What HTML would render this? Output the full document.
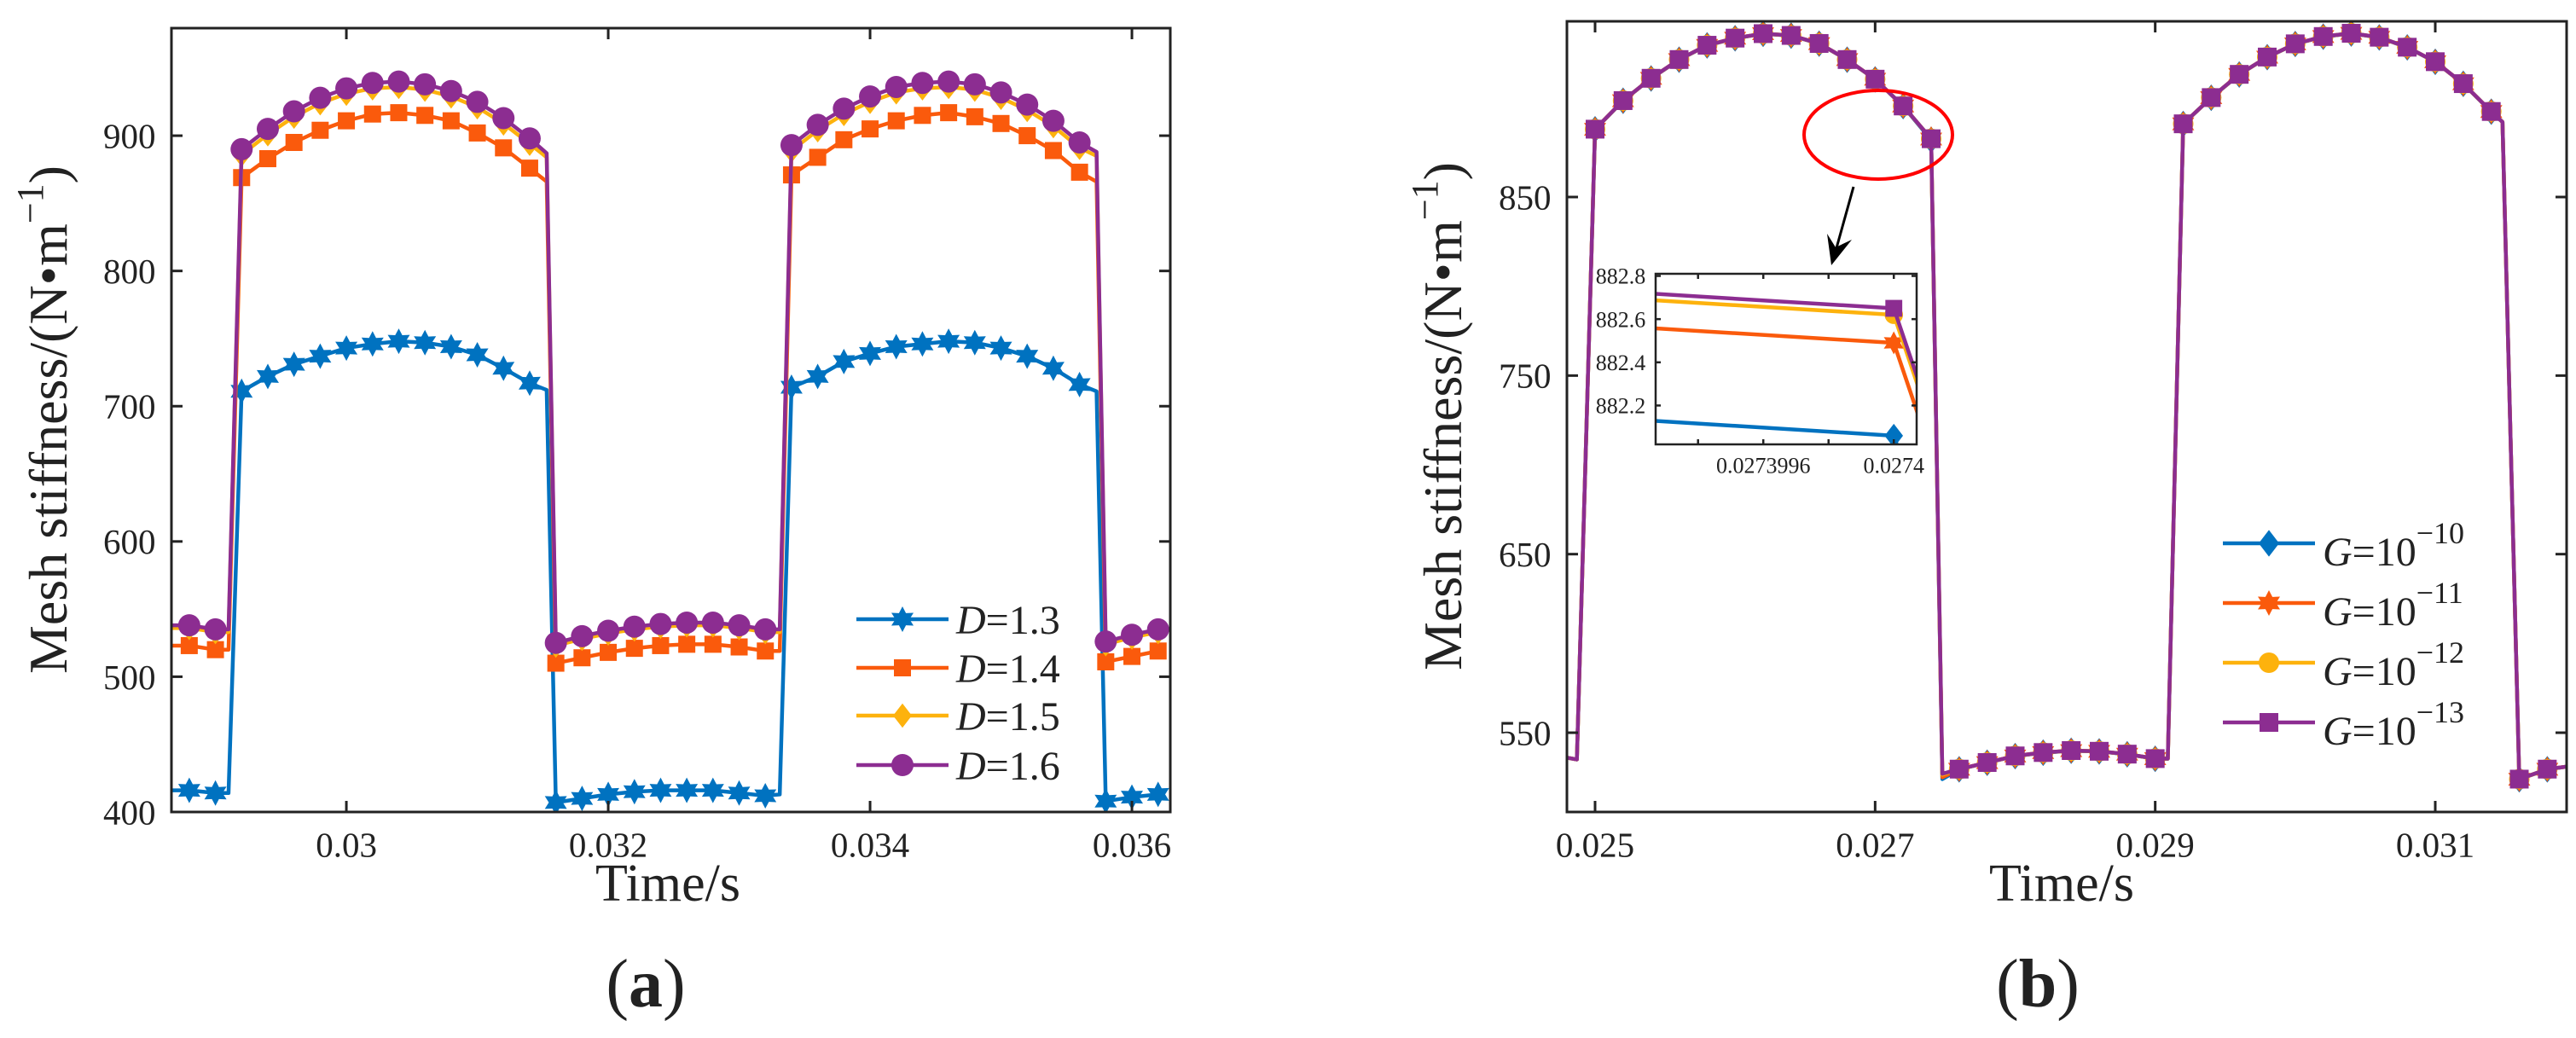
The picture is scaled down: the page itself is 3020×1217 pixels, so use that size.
<!DOCTYPE html>
<html><head><meta charset="utf-8"><style>
html,body{margin:0;padding:0;background:#fff;width:3020px;height:1217px;overflow:hidden}
svg{display:block;font-family:"Liberation Serif",serif;overflow:hidden}
</style></head><body>
<svg id="fig" width="3020" height="1217" viewBox="0 0 3020 1217" xmlns="http://www.w3.org/2000/svg">
<defs>
<clipPath id="clipL"><rect x="201" y="33" width="1171" height="919"/></clipPath>
<clipPath id="clipR"><rect x="1837" y="25" width="1172" height="927"/></clipPath>
<clipPath id="clipI"><rect x="1941" y="321" width="306" height="200"/></clipPath>
</defs>
<g id="panelA"></g>
<g id="panelB"></g>
</svg>
<script>
// ---------- Panel (a) data ----------
const tA = [0.0288,0.0290,0.0292,0.0294,0.0296,0.0298,0.0300,0.0302,0.0304,0.0306,0.0308,0.0310,0.0312,0.0314,
0.0316,0.0318,0.0320,0.0322,0.0324,0.0326,0.0328,0.0330,0.0332,
0.0334,0.0336,0.0338,0.0340,0.0342,0.0344,0.0346,0.0348,0.0350,0.0352,0.0354,0.0356,
0.0358,0.0360,0.0362];
const d13 = [416,414, 711,722,731,737,743,746,748,747,744,738,728,717, 407,410,413,415,416,416,416,414,412, 714,722,733,739,744,746,748,747,743,737,728,716, 408,411,413];
const d14 = [523,520, 869,883,895,904,911,916,917,915,911,902,891,876, 510,514,518,521,523,524,524,522,519, 871,884,897,905,911,915,917,914,909,900,889,873, 511,515,519];
const d15 = [536,533, 886,901,914,924,931,935,936,934,929,921,909,894, 523,528,532,535,537,538,538,536,533, 889,904,916,925,932,935,936,934,928,919,907,891, 524,529,533];
const d16 = [538,535, 890,905,918,928,935,939,940,938,933,925,913,898, 525,530,534,537,539,540,540,538,535, 893,908,920,929,936,939,940,938,932,923,911,895, 526,531,535];
const edgeTA = [0.02866,0.02910,0.03153,0.03331,0.03573];
const e13 = [416,414,712,413,711];
const e14 = [523,520,866,519,866];
const e15 = [536,533,884,533,885];
const e16 = [538,535,887,535,888];
const xTicksA = [0.030,0.032,0.034,0.036];
const xTickLabelsA = ["0.03","0.032","0.034","0.036"];
const yTicksA = [400,500,600,700,800,900];
const legendA = ["1.3","1.4","1.5","1.6"];

// ---------- Panel (b) data ----------
const tB = [0.0250,0.0252,0.0254,0.0256,0.0258,0.0260,0.0262,0.0264,0.0266,0.0268,0.0270,0.0272,0.0274,
0.0276,0.0278,0.0280,0.0282,0.0284,0.0286,0.0288,0.0290,
0.0292,0.0294,0.0296,0.0298,0.0300,0.0302,0.0304,0.0306,0.0308,0.0310,0.0312,0.0314,
0.0316,0.0318];
const g10 = [887.9,903.9,916.4,926.9,934.9,938.9,941.4,940.4,935.9,926.9,915.9,900.9,882.06, 529.5,533.2,536.9,538.8,539.9,539.5,537.9,535.4, 890.9,905.6,918.6,928.3,935.7,939.8,941.6,939.4,933.8,925.7,913.4,897.8, 523.9,529.5];
const g11 = [887.95,903.95,916.45,926.95,934.95,938.95,941.45,940.45,935.95,926.95,915.95,900.95,882.49, 529.55,533.25,536.95,538.85,539.95,539.55,537.95,535.45, 890.95,905.65,918.65,928.35,935.75,939.85,941.65,939.45,933.85,925.75,913.45,897.85, 523.95,529.55];
const g12 = [888,904,916.5,927,935,939,941.5,940.5,936,927,916,901,882.62, 529.6,533.3,537,538.9,540,539.6,538,535.5, 891,905.7,918.7,928.4,935.8,939.9,941.7,939.5,933.9,925.8,913.5,897.9, 524,529.6];
const g13 = [888,904,916.5,927,935,939,941.5,940.5,936,927,916,901,882.65, 529.6,533.3,537,538.9,540,539.6,538,535.5, 891,905.7,918.7,928.4,935.8,939.9,941.7,939.5,933.9,925.8,913.5,897.9, 524,529.6];
const edgeTB = [0.024799,0.02487,0.02748,0.02909,0.03148,0.031938];
const eg10 = [536,535,524,535.4,892,531];
const eg11 = [536,535,525,535.45,892,531];
const eg12 = [536,535,526.5,535.5,892,531];
const eg13 = [536,535,527,535.5,892,531];
const xTicksB = [0.025,0.027,0.029,0.031];
const xTickLabelsB = ["0.025","0.027","0.029","0.031"];
const yTicksB = [550,650,750,850];
const legendB = ["10","11","12","13"];
// inset
const xTicksI = [0.0273994,0.0273996,0.0273998,0.0274];
const xTickLabelsI = ["","0.0273996","","0.0274"];
const yTicksI = [882.2,882.4,882.6,882.8];

const NS = "http://www.w3.org/2000/svg";
const C = {blue:"#0072C0",orange:"#FA5A0C",yellow:"#FDB20D",purple:"#8C2D91"};
function mk(tag, attrs, parent){const e=document.createElementNS(NS,tag);for(const k in attrs)e.setAttribute(k,attrs[k]);if(parent)parent.appendChild(e);return e;}
function scale(d0,d1,p0,p1){return v=>p0+(v-d0)/(d1-d0)*(p1-p0);}
function marker(g,type,cx,cy,s,color){
  let e;
  if(type==="circle"){e=mk("circle",{cx:cx,cy:cy,r:s},g);}
  else if(type==="square"){e=mk("rect",{x:cx-s,y:cy-s,width:2*s,height:2*s},g);}
  else if(type==="diamond"){e=mk("polygon",{points:`${cx},${cy-s*1.3} ${cx+s},${cy} ${cx},${cy+s*1.3} ${cx-s},${cy}`},g);}
  else {let p=[];for(let i=0;i<12;i++){const a=-Math.PI/2+i*Math.PI/6;const r=i%2?s*0.55:s;p.push((cx+r*Math.cos(a)).toFixed(1)+","+(cy+r*Math.sin(a)).toFixed(1));}e=mk("polygon",{points:p.join(" ")},g);}
  e.setAttribute("fill",color);
  
  
  return e;
}
function mergePts(t,v,et,ev){const a=[];t.forEach((x,i)=>a.push([x,v[i]]));et.forEach((x,i)=>a.push([x,ev[i]]));a.sort((p,q)=>p[0]-q[0]);return a;}
function drawSeries(g,X,Y,t,v,et,ev,type,s,color,clip,name){
  const sg=mk("g",{"clip-path":`url(#${clip})`},g);
  
  
  const pts=mergePts(t,v,et,ev);
  const pl=mk("polyline",{points:pts.map(p=>X(p[0]).toFixed(2)+","+Y(p[1]).toFixed(2)).join(" "),fill:"none",stroke:color,"stroke-width":4.5,"stroke-linejoin":"round"},sg);
  
  
  t.forEach((x,i)=>marker(sg,type,X(x),Y(v[i]),s,color));
}
function axes(g,L,R,T,B,X,Y,xt,xl,yt,yl,fs,tl,name,lw){
  const fr=mk("rect",{x:L,y:T,width:R-L,height:B-T,fill:"none",stroke:"#222","stroke-width":lw},g);
  
  
  xt.forEach((v,i)=>{const x=X(v);
    mk("line",{x1:x,y1:B,x2:x,y2:B-tl,stroke:"#222","stroke-width":lw},g);
    mk("line",{x1:x,y1:T,x2:x,y2:T+tl,stroke:"#222","stroke-width":lw},g);
    if(xl[i]){const t=mk("text",{x:x,y:B+fs*1.28,"font-size":fs,"text-anchor":"middle",fill:"#222"},g);t.textContent=xl[i];
    
    }
  });
  yt.forEach((v,i)=>{const y=Y(v);
    mk("line",{x1:L,y1:y,x2:L+tl,y2:y,stroke:"#222","stroke-width":lw},g);
    mk("line",{x1:R,y1:y,x2:R-tl,y2:y,stroke:"#222","stroke-width":lw},g);
    const t=mk("text",{x:L-fs*0.45,y:y+fs*0.35,"font-size":fs,"text-anchor":"end",fill:"#222"},g);t.textContent=yl[i];
    
    
  });
}
function ytitle(g,x,y){
  const t=mk("text",{x:0,y:0,"font-size":64,"text-anchor":"middle",fill:"#222",transform:`translate(${x},${y}) rotate(-90)`},g);
  t.innerHTML='Mesh stiffness/(N•m<tspan dy="-28" font-size="44">−1</tspan><tspan dy="28">)</tspan>';
  
  
}
function text(g,x,y,fs,str,name,anchor){const t=mk("text",{x:x,y:y,"font-size":fs,"text-anchor":anchor||"middle",fill:"#222"},g);t.innerHTML=str;
  
  return t;}

// ---------- Panel A ----------
(function(){
  const g=document.getElementById("panelA");
  const L=201,R=1372,T=33,B=952;
  const X=scale(0.028664,0.036293,L,R), Y=scale(400,979.5,B,T);
  const series=[[d13,e13,"hex",15,C.blue,"series-d13"],[d14,e14,"square",10,C.orange,"series-d14"],[d15,e15,"diamond",11,C.yellow,"series-d15"],[d16,e16,"circle",13,C.purple,"series-d16"]];
  series.forEach(s=>drawSeries(g,X,Y,tA,s[0],edgeTA,s[1],s[2],s[3],s[4],"clipL",s[5]));
  axes(g,L,R,T,B,X,Y,xTicksA,xTickLabelsA,yTicksA,yTicksA.map(String),41,13,"axes-a",3);
  ytitle(g,78,492);
  text(g,783,1056,62,"Time/s","x-axis-title");
  text(g,757,1180,80,'(<tspan font-weight="bold">a</tspan>)',"panel-label-a");
  const lg=mk("g",{},g);
  
  
  const ly=[726,783,839,897];
  series.forEach((s,i)=>{
    const le=mk("g",{},lg);
    
    
    mk("line",{x1:1004,y1:ly[i],x2:1112,y2:ly[i],stroke:s[4],"stroke-width":4.5},le);
    marker(le,s[2],1058,ly[i],s[3],s[4]);
    text(le,1121,ly[i]+17,48,'<tspan font-style="italic">D</tspan>='+legendA[i],"legend-label","start");
  });
})();

// ---------- Panel B ----------
(function(){
  const g=document.getElementById("panelB");
  const L=1837,R=3009,T=25,B=952;
  const X=scale(0.024799,0.031938,L,R), Y=scale(505.6,948.4,B,T);
  const series=[[g10,eg10,"diamond",12,C.blue,"series-g10"],[g11,eg11,"hex",15,C.orange,"series-g11"],[g12,eg12,"circle",12,C.yellow,"series-g12"],[g13,eg13,"square",11,C.purple,"series-g13"]];
  series.forEach(s=>drawSeries(g,X,Y,tB,s[0],edgeTB,s[1],s[2],s[3],s[4],"clipR",s[5]));
  axes(g,L,R,T,B,X,Y,xTicksB,xTickLabelsB,yTicksB,yTicksB.map(String),41,13,"axes-b",3);
  ytitle(g,1713,488);
  text(g,2417,1056,62,"Time/s","x-axis-title");
  text(g,2389,1180,80,'(<tspan font-weight="bold">b</tspan>)',"panel-label-b");
  const el=mk("ellipse",{cx:2202,cy:158,rx:87,ry:52,fill:"none",stroke:"#F00","stroke-width":4},g);
  
  
  const ar=mk("g",{},g);
  
  
  mk("line",{x1:2173,y1:219,x2:2151,y2:298,stroke:"#000","stroke-width":3},ar);
  mk("polygon",{points:"2147,311 2142,274 2152,290 2171,281",fill:"#000"},ar);
  const ig=mk("g",{},g);
  
  
  const iL=1941,iR=2247,iT=321,iB=521;
  mk("rect",{x:iL,y:iT,width:iR-iL,height:iB-iT,fill:"#fff"},ig);
  const IX=scale(0.02739927,0.02740007,iL,iR), IY=scale(882.02,882.81,iB,iT);
  series.forEach(s=>drawSeries(ig,IX,IY,tB,s[0],edgeTB,s[1],s[2],s[3]*0.9,s[4],"clipI",s[5]+"-inset"));
  axes(ig,iL,iR,iT,iB,IX,IY,xTicksI,xTickLabelsI,yTicksI,yTicksI.map(v=>v.toFixed(1)),26,6,"inset-axes",2.5);
  const lg=mk("g",{},g);
  
  
  const ly=[637,707,777,847];
  series.forEach((s,i)=>{
    const le=mk("g",{},lg);
    
    
    mk("line",{x1:2606,y1:ly[i],x2:2714,y2:ly[i],stroke:s[4],"stroke-width":4.5},le);
    marker(le,s[2],2660,ly[i],s[3],s[4]);
    text(le,2723,ly[i]+26,48,'<tspan font-style="italic">G</tspan>=10<tspan dy="-26" font-size="36">−'+legendB[i]+'</tspan>',"legend-label","start");
  });
})();
</script>
</body></html>
